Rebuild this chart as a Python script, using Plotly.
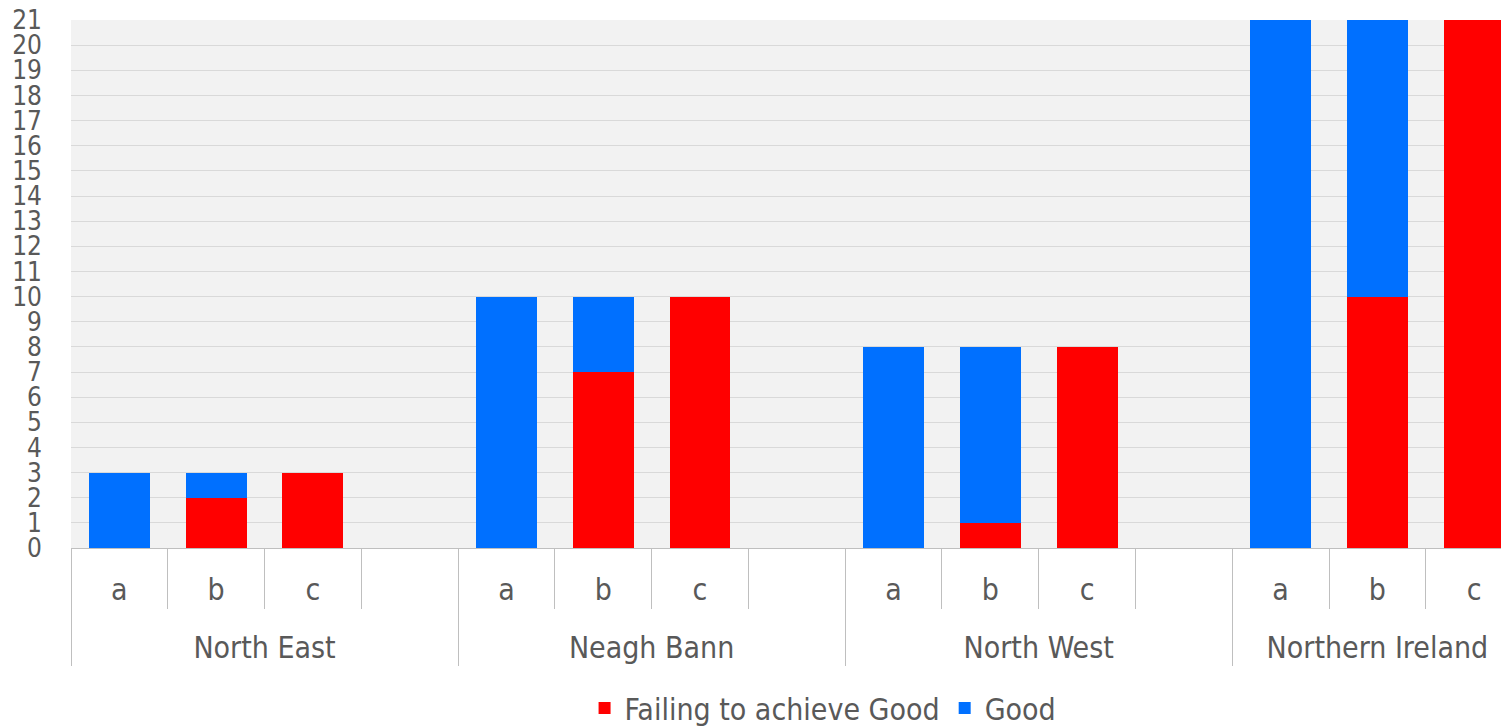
import plotly.graph_objects as go

regions = ["North East", "Neagh Bann", "North West", "Northern Ireland"]
slots = ["a", "b", "c", ""]

# values per region, per slot (a, b, c, blank); None = no bar
failing = {
    "North East": [0, 2, 3, None],
    "Neagh Bann": [0, 7, 10, None],
    "North West": [0, 1, 8, None],
    "Northern Ireland": [0, 10, 21],
}
good = {
    "North East": [3, 1, 0, None],
    "Neagh Bann": [10, 3, 0, None],
    "North West": [8, 7, 0, None],
    "Northern Ireland": [21, 11, 0],
}

# invisible low glyphs deepen the inner label row so the region row sits lower
pad = "<span style='font-size:61px;color:rgba(0,0,0,0)'>_</span>"

outer, inner, fail_vals, good_vals = [], [], [], []
for r in regions:
    for i, v in enumerate(failing[r]):
        outer.append(r)
        inner.append(pad + slots[i] + pad)
        fail_vals.append(v)
        good_vals.append(good[r][i])

text_color = "#595959"
font_family = "DejaVu Sans Condensed, DejaVu Sans, sans-serif"

fig = go.Figure()
fig.add_trace(go.Bar(x=[outer, inner], y=fail_vals, name="Failing to achieve Good",
                     marker=dict(color="#FF0000", line=dict(width=0))))
fig.add_trace(go.Bar(x=[outer, inner], y=good_vals, name="Good",
                     marker=dict(color="#0070FF", line=dict(width=0))))

fig.update_layout(
    width=1501, height=718,
    barmode="stack", bargap=0.37,
    margin=dict(l=63, r=0, t=12, b=178, autoexpand=False),
    paper_bgcolor="white", plot_bgcolor="#F2F2F2",
    font=dict(family=font_family, size=30, color=text_color),
    showlegend=True,
    legend=dict(orientation="h", x=0.523, xanchor="center", y=-0.303, yanchor="middle",
                font=dict(size=30, color=text_color), itemwidth=30, traceorder="normal"),
    hovermode=False,
)
fig.update_xaxes(
    type="multicategory", range=[-0.5, 14.36], automargin=False,
    showline=True, linecolor="#BFBFBF", linewidth=1,
    ticks="outside", tickson="boundaries", ticklen=60, tickcolor="#BFBFBF",
    showdividers=True, dividercolor="#BFBFBF", dividerwidth=1,
    tickfont=dict(size=30, color=text_color), ticklabelstandoff=15,
    showgrid=False,
)
fig.update_yaxes(
    range=[0, 21], dtick=1, tick0=0, automargin=False,
    showgrid=True, gridcolor="#D9D9D9", gridwidth=1,
    zeroline=False, ticks="", ticklabelstandoff=28, ticklabeloverflow="allow",
    tickfont=dict(size=26, color=text_color),
)

fig.write_html("out.html")
